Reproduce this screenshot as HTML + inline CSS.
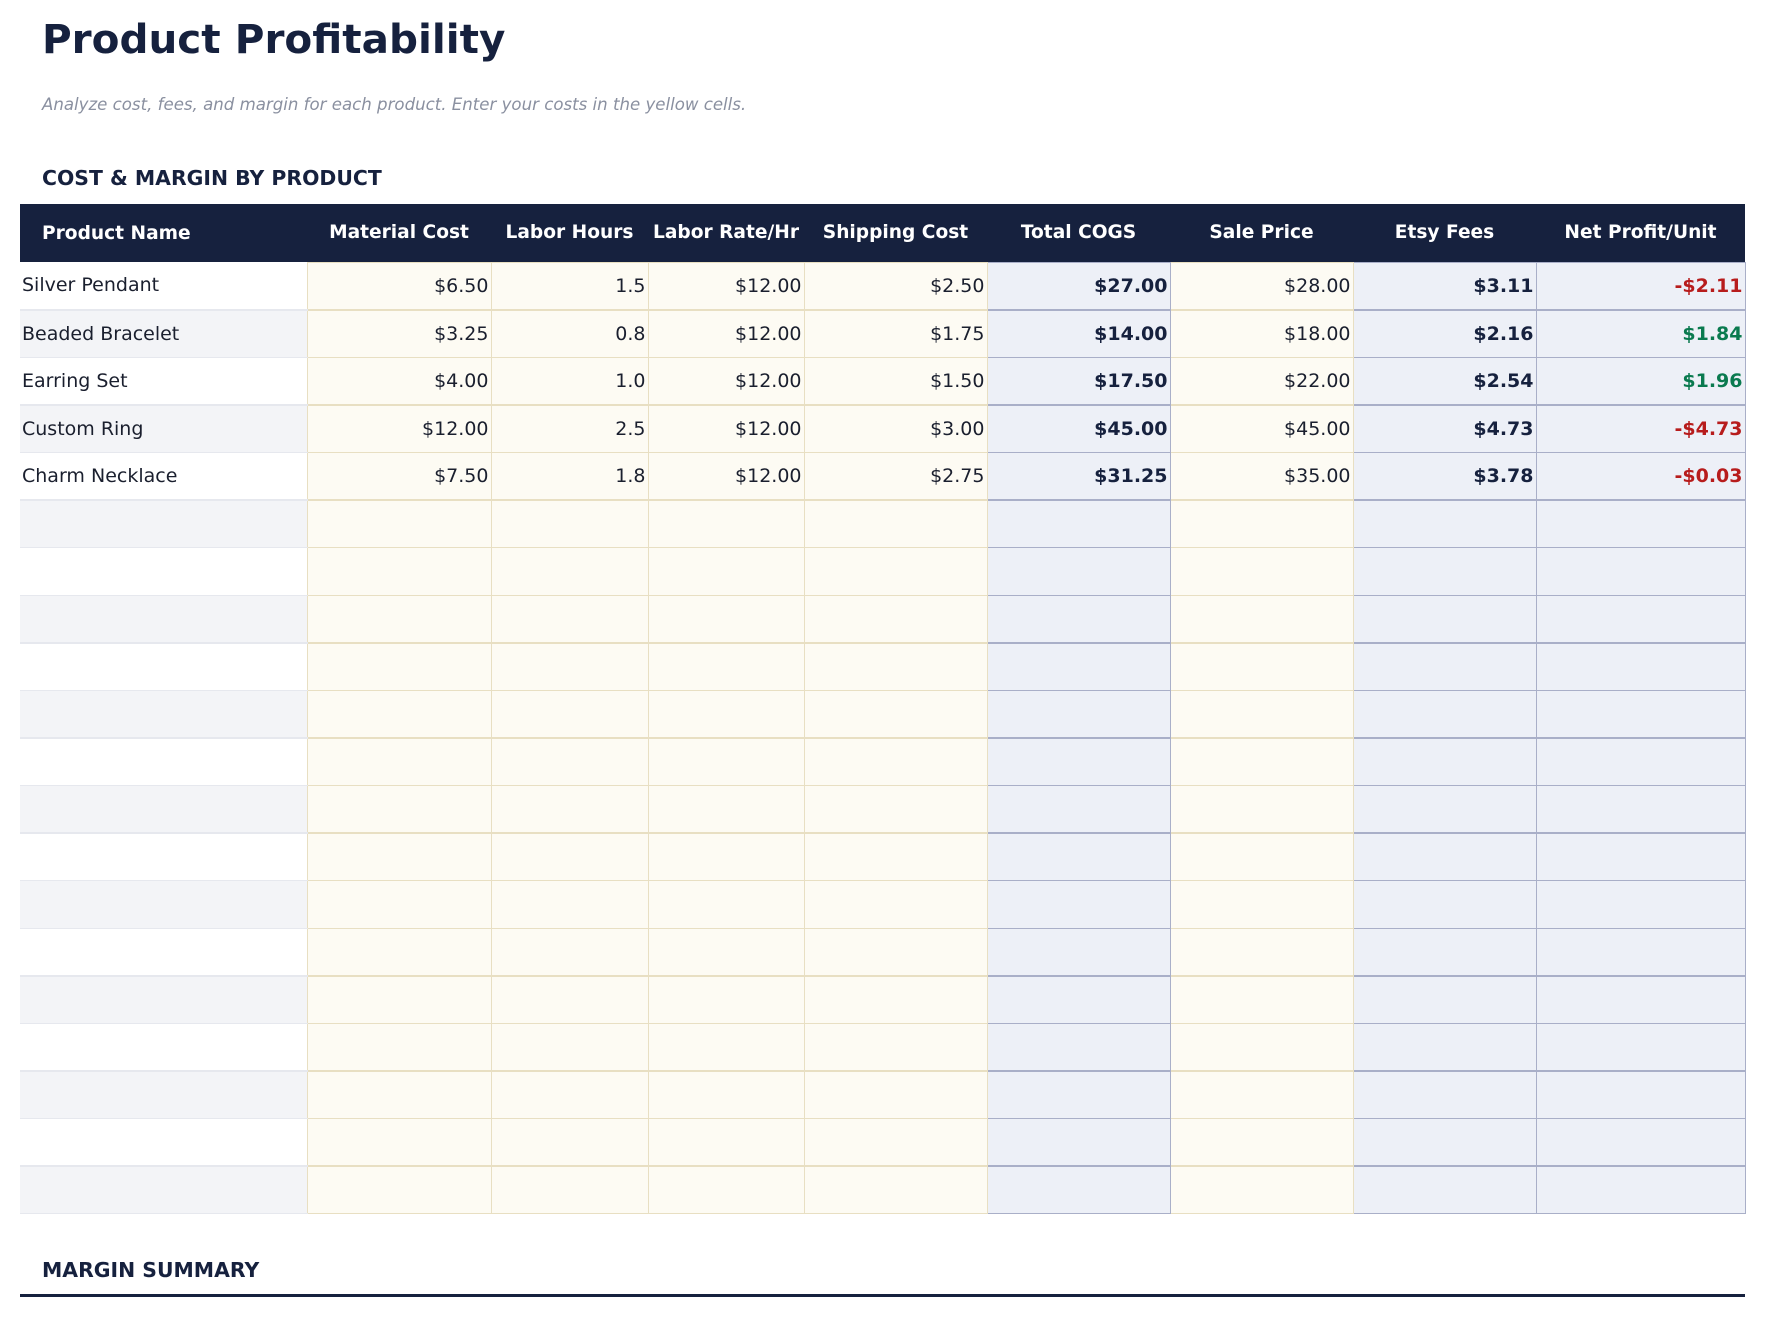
<!DOCTYPE html>
<html><head><meta charset="utf-8"><style>
*{margin:0;padding:0;box-sizing:border-box}
body{width:1766px;height:1317px;background:#fff;font-family:"DejaVu Sans","Liberation Sans",sans-serif;color:#1a1f2e;position:relative;overflow:hidden}
.t{position:absolute;left:42px;top:15px;font-size:40.5px;font-weight:bold;color:#16213e}
.s{position:absolute;left:42px;top:95px;font-size:16.6px;font-style:italic;color:#8a90a0}
.h{position:absolute;left:42px;top:166px;font-size:20.4px;font-weight:bold;color:#16213e}
.h2{position:absolute;left:42px;top:1258px;font-size:20.4px;font-weight:bold;color:#16213e}
.line{position:absolute;left:20px;top:1294px;width:1725px;height:3px;background:#16213e}
table{position:absolute;left:20px;top:204px;border-collapse:collapse;table-layout:fixed;width:1725px}
th{background:#16213e;color:#fff;height:58px;font-size:18.6px;font-weight:bold;text-align:center}
th:first-child{text-align:left;padding-left:22px}
td{height:47.6px;font-size:19px;text-align:right;padding-right:2px}
td:first-child{text-align:left;padding-left:2px;border-bottom:1px solid #e6e8ee}
tbody tr:nth-child(even) td:first-child{background:#f3f4f7}
td.y{background:#fdfbf3;border:1px solid #e8dfc2}
td.b{background:#edf0f7;border:1px solid #a9afc8;font-weight:bold;color:#16213e}
tr.k td{border-bottom-width:2px}
.r{color:#b71c1c!important}.g{color:#0a7a4f!important}
</style></head><body>
<div class="t">Product Profitability</div>
<div class="s">Analyze cost, fees, and margin for each product. Enter your costs in the yellow cells.</div>
<div class="h">COST &amp; MARGIN BY PRODUCT</div>
<table>
<colgroup><col style="width:287px"><col style="width:184px"><col style="width:157px"><col style="width:156px"><col style="width:183px"><col style="width:183px"><col style="width:183px"><col style="width:183px"><col style="width:209px"></colgroup>
<thead><tr><th>Product Name</th><th>Material Cost</th><th>Labor Hours</th><th>Labor Rate/Hr</th><th>Shipping Cost</th><th>Total COGS</th><th>Sale Price</th><th>Etsy Fees</th><th>Net Profit/Unit</th></tr></thead>
<tbody>
<tr class="k"><td>Silver Pendant</td><td class="y">$6.50</td><td class="y">1.5</td><td class="y">$12.00</td><td class="y">$2.50</td><td class="b">$27.00</td><td class="y">$28.00</td><td class="b">$3.11</td><td class="b r">-$2.11</td></tr>
<tr><td>Beaded Bracelet</td><td class="y">$3.25</td><td class="y">0.8</td><td class="y">$12.00</td><td class="y">$1.75</td><td class="b">$14.00</td><td class="y">$18.00</td><td class="b">$2.16</td><td class="b g">$1.84</td></tr>
<tr class="k"><td>Earring Set</td><td class="y">$4.00</td><td class="y">1.0</td><td class="y">$12.00</td><td class="y">$1.50</td><td class="b">$17.50</td><td class="y">$22.00</td><td class="b">$2.54</td><td class="b g">$1.96</td></tr>
<tr><td>Custom Ring</td><td class="y">$12.00</td><td class="y">2.5</td><td class="y">$12.00</td><td class="y">$3.00</td><td class="b">$45.00</td><td class="y">$45.00</td><td class="b">$4.73</td><td class="b r">-$4.73</td></tr>
<tr class="k"><td>Charm Necklace</td><td class="y">$7.50</td><td class="y">1.8</td><td class="y">$12.00</td><td class="y">$2.75</td><td class="b">$31.25</td><td class="y">$35.00</td><td class="b">$3.78</td><td class="b r">-$0.03</td></tr>
<tr><td></td><td class="y"></td><td class="y"></td><td class="y"></td><td class="y"></td><td class="b"></td><td class="y"></td><td class="b"></td><td class="b"></td></tr>
<tr><td></td><td class="y"></td><td class="y"></td><td class="y"></td><td class="y"></td><td class="b"></td><td class="y"></td><td class="b"></td><td class="b"></td></tr>
<tr class="k"><td></td><td class="y"></td><td class="y"></td><td class="y"></td><td class="y"></td><td class="b"></td><td class="y"></td><td class="b"></td><td class="b"></td></tr>
<tr><td></td><td class="y"></td><td class="y"></td><td class="y"></td><td class="y"></td><td class="b"></td><td class="y"></td><td class="b"></td><td class="b"></td></tr>
<tr class="k"><td></td><td class="y"></td><td class="y"></td><td class="y"></td><td class="y"></td><td class="b"></td><td class="y"></td><td class="b"></td><td class="b"></td></tr>
<tr><td></td><td class="y"></td><td class="y"></td><td class="y"></td><td class="y"></td><td class="b"></td><td class="y"></td><td class="b"></td><td class="b"></td></tr>
<tr class="k"><td></td><td class="y"></td><td class="y"></td><td class="y"></td><td class="y"></td><td class="b"></td><td class="y"></td><td class="b"></td><td class="b"></td></tr>
<tr><td></td><td class="y"></td><td class="y"></td><td class="y"></td><td class="y"></td><td class="b"></td><td class="y"></td><td class="b"></td><td class="b"></td></tr>
<tr><td></td><td class="y"></td><td class="y"></td><td class="y"></td><td class="y"></td><td class="b"></td><td class="y"></td><td class="b"></td><td class="b"></td></tr>
<tr class="k"><td></td><td class="y"></td><td class="y"></td><td class="y"></td><td class="y"></td><td class="b"></td><td class="y"></td><td class="b"></td><td class="b"></td></tr>
<tr><td></td><td class="y"></td><td class="y"></td><td class="y"></td><td class="y"></td><td class="b"></td><td class="y"></td><td class="b"></td><td class="b"></td></tr>
<tr class="k"><td></td><td class="y"></td><td class="y"></td><td class="y"></td><td class="y"></td><td class="b"></td><td class="y"></td><td class="b"></td><td class="b"></td></tr>
<tr><td></td><td class="y"></td><td class="y"></td><td class="y"></td><td class="y"></td><td class="b"></td><td class="y"></td><td class="b"></td><td class="b"></td></tr>
<tr class="k"><td></td><td class="y"></td><td class="y"></td><td class="y"></td><td class="y"></td><td class="b"></td><td class="y"></td><td class="b"></td><td class="b"></td></tr>
<tr><td></td><td class="y"></td><td class="y"></td><td class="y"></td><td class="y"></td><td class="b"></td><td class="y"></td><td class="b"></td><td class="b"></td></tr>
</tbody>
</table>
<div class="h2">MARGIN SUMMARY</div>
<div class="line"></div>
</body></html>
